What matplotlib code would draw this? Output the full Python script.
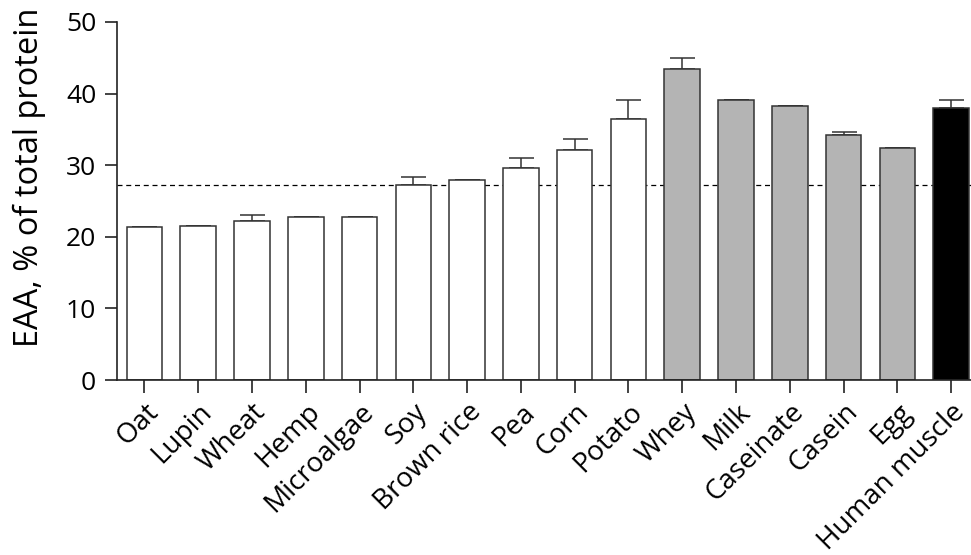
import matplotlib
matplotlib.use("Agg")
import matplotlib.pyplot as plt
import numpy as np

# data
sources = ["Oat", "Lupin", "Wheat", "Hemp", "Microalgae", "Soy", "Brown rice",
           "Pea", "Corn", "Potato", "Whey", "Milk", "Caseinate", "Casein",
           "Egg", "Human muscle"]
eaa = [21.3, 21.5, 22.2, 22.8, 22.8, 27.3, 28.0, 29.6, 32.1, 36.45,
       43.45, 39.05, 38.2, 34.15, 32.35, 37.95]
eaa_err = [0, 0, 0.9, 0, 0, 1.0, 0, 1.45, 1.6, 2.6,
           1.5, 0, 0, 0.5, 0, 1.1]
group = ["plant"] * 10 + ["animal"] * 5 + ["muscle"]
reference_line = 27.2

group_colors = {"plant": "white", "animal": "#b4b4b4", "muscle": "black"}

plt.rcParams['font.family'] = ['Open Sans', 'DejaVu Sans']

fig = plt.figure(figsize=(9.71, 5.55), dpi=100)
ax = fig.add_axes([0.1205, 0.3153, 0.8795, 0.6451])

x = np.arange(len(sources))
colors = [group_colors[g] for g in group]

ax.axhline(reference_line, color="black", linestyle=(0, (4, 3)), linewidth=0.9, zorder=1)
ax.bar(x, eaa, width=0.66, color=colors, edgecolor="#333333", linewidth=1.1, zorder=2)
ax.errorbar(x, eaa, yerr=[np.zeros(len(eaa)), eaa_err], fmt="none",
            ecolor="#333333", elinewidth=1.1, capsize=9, capthick=1.1, zorder=1.5)

ax.set_xlim(-0.51, 15.37)
ax.set_ylim(0, 50)
ax.set_yticks([0, 10, 20, 30, 40, 50])
ax.set_xticks(x)
ax.set_xticklabels(sources, rotation=45, ha="right", va="top", rotation_mode="anchor",
                   fontsize=20)
ax.set_ylabel("EAA, % of total protein", fontsize=23.5)
ax.yaxis.set_label_coords(-0.083, 0.567)

ax.spines["top"].set_visible(False)
ax.spines["right"].set_visible(False)
for s in ["left", "bottom"]:
    ax.spines[s].set_linewidth(1.2)
    ax.spines[s].set_color("#222222")
ax.tick_params(axis="both", length=9, width=1.2, color="#222222")
ax.tick_params(axis="y", labelsize=19, pad=6)
ax.tick_params(axis="x", pad=4)

fig.savefig("out.png", dpi=100)
